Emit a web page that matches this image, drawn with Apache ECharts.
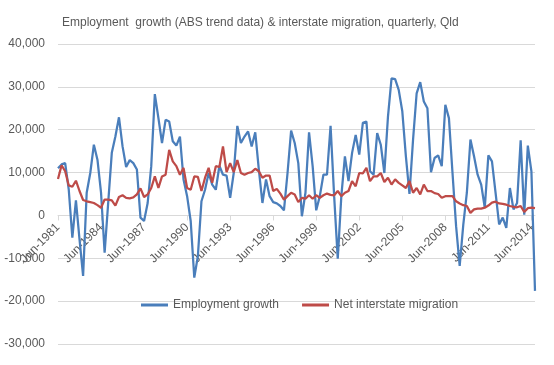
<!DOCTYPE html>
<html>
<head>
<meta charset="utf-8">
<script src="https://cdn.jsdelivr.net/npm/echarts@6/dist/echarts.min.js"></script>
<style>
html,body{margin:0;padding:0;background:#fff;}
#chart{width:554px;height:365px;}
</style>
</head>
<body>
<div id="chart"></div>
<script>
// Quarterly categories Jun-1981 .. Sep-2014
const months = ['Mar','Jun','Sep','Dec'];
const categories = [];
for (let y = 1981, q = 1; categories.length < 134; ) {
  categories.push(months[q] + '-' + y);
  q++; if (q > 3) { q = 0; y++; }
}

const employmentGrowth = [
  11000, 11900, 12200, 6000, -5200, 3500, -5600, -14100, 5300, 9900,
  16500, 13000, 5300, -8700, 3000, 14600, 18400, 22900, 16100, 11300,
  12900, 12200, 10700, -500, -1300, 2900, 11500, 28300, 22700, 16900,
  22300, 21900, 17300, 16300, 18400, 8400, 4500, -1300, -14500, -9500,
  3300, 6000, 9900, 7200, 6000, 11600, 9500, 9300, 4100, 9900,
  20900, 16900, 18400, 19600, 16100, 19400, 10700, 2900, 8400, 4500,
  3100, 2800, 2200, 1200, 9900, 19800, 16900, 12200, -200, 5300,
  19400, 11500, 1200, 4500, 9500, 9500, 20900, 4500, -10100, 4500,
  13800, 8000, 14600, 18800, 14200, 21600, 21900, 10300, 9500, 19200,
  16500, 9900, 23000, 32000, 31800, 29300, 24300, 13800, 5000, 17700,
  28500, 31100, 26600, 25000, 10100, 13400, 14000, 11500, 25800, 22700,
  9900, -2500, -11800, -2200, 5300, 17700, 13800, 9500, 7200, 1800,
  14000, 12600, 5300, -2100, -500, -2900, 6400, 1400, 2900, 17500,
  200, 16300, 10300, -17600
];

const netInterstateMigration = [
  8500, 11700, 10300, 7000, 6700, 8100, 5700, 3600, 3300, 3100,
  2900, 2400, 1800, 3700, 3700, 3500, 2300, 4300, 4700, 4100,
  4000, 4200, 4900, 6300, 4300, 4900, 6400, 9100, 6400, 9100,
  9500, 15300, 12600, 11500, 9500, 11100, 6400, 6000, 9100, 9000,
  5700, 8800, 11100, 7600, 11500, 11300, 16100, 10100, 12200, 10100,
  12900, 9900, 9500, 9900, 10100, 10900, 10300, 8800, 9300, 9300,
  5700, 6200, 5100, 3700, 4500, 5300, 4900, 3100, 4100, 3900,
  4700, 3900, 4700, 4100, 4700, 5100, 4800, 4700, 5700, 4500,
  5300, 5700, 8000, 6800, 9900, 9800, 11100, 8000, 9100, 9100,
  9900, 7800, 8800, 7200, 8400, 7600, 7000, 6400, 8000, 5300,
  6400, 4900, 7200, 5700, 5700, 5200, 5000, 4100, 4500, 4500,
  4500, 3300, 2800, 2400, 2200, 600, 1400, 1600, 1600, 1800,
  2300, 3000, 3200, 2800, 2700, 2500, 2200, 2000, 1900, 2200,
  800, 1700, 1800, 1700
];

const yTicks = { min: -30000, max: 40000, interval: 10000 };
const seriesNames = ['Employment growth', 'Net interstate migration'];
const titleText = 'Employment  growth (ABS trend data) & interstate migration, quarterly, Qld';

const chart = echarts.init(document.getElementById('chart'), null, { renderer: 'canvas' });
const FONT = 'Liberation Sans';
const TXT = '#595959';
const GRID = { left: 58, right: 19, top: 44, bottom: 21 };
const plotH = 365 - GRID.top - GRID.bottom;
const zeroOffset = -plotH * (0 - yTicks.min) / (yTicks.max - yTicks.min);

chart.setOption({
  animation: false,
  backgroundColor: '#fff',
  title: {
    text: titleText,
    left: 57,
    top: 12,
    textStyle: { fontFamily: FONT, fontSize: 12, fontWeight: 'normal', color: TXT }
  },
  legend: {
    left: 136,
    top: 294,
    itemWidth: 27,
    itemHeight: 3,
    itemGap: 23,
    icon: 'rect',
    textStyle: { fontFamily: FONT, fontSize: 12, color: TXT },
    data: seriesNames
  },
  grid: Object.assign({ containLabel: false, outerBoundsMode: 'none' }, GRID),
  xAxis: {
    type: 'category',
    data: categories,
    boundaryGap: false,
    offset: zeroOffset,
    axisLine: { onZero: false, lineStyle: { color: '#d9d9d9', width: 1 } },
    axisTick: { show: true, interval: 11, length: 5, lineStyle: { color: '#d9d9d9' } },
    axisLabel: { interval: 11, rotate: 45, fontFamily: FONT, fontSize: 12, color: TXT, margin: 10, hideOverlap: false },
    splitLine: { show: false }
  },
  yAxis: {
    type: 'value',
    min: yTicks.min,
    max: yTicks.max,
    interval: yTicks.interval,
    axisLine: { show: false },
    axisTick: { show: false },
    axisLabel: {
      fontFamily: FONT, fontSize: 12, color: TXT, margin: 13,
      formatter: v => v.toLocaleString('en-US')
    },
    splitLine: { lineStyle: { color: '#d9d9d9', width: 1 } }
  },
  series: [
    {
      name: seriesNames[0], type: 'line', data: employmentGrowth,
      symbol: 'none', lineStyle: { color: '#4A7EBB', width: 2.25 }, itemStyle: { color: '#4A7EBB' }
    },
    {
      name: seriesNames[1], type: 'line', data: netInterstateMigration,
      symbol: 'none', lineStyle: { color: '#BE4B48', width: 2.25 }, itemStyle: { color: '#BE4B48' }
    }
  ]
});
</script>
</body>
</html>
